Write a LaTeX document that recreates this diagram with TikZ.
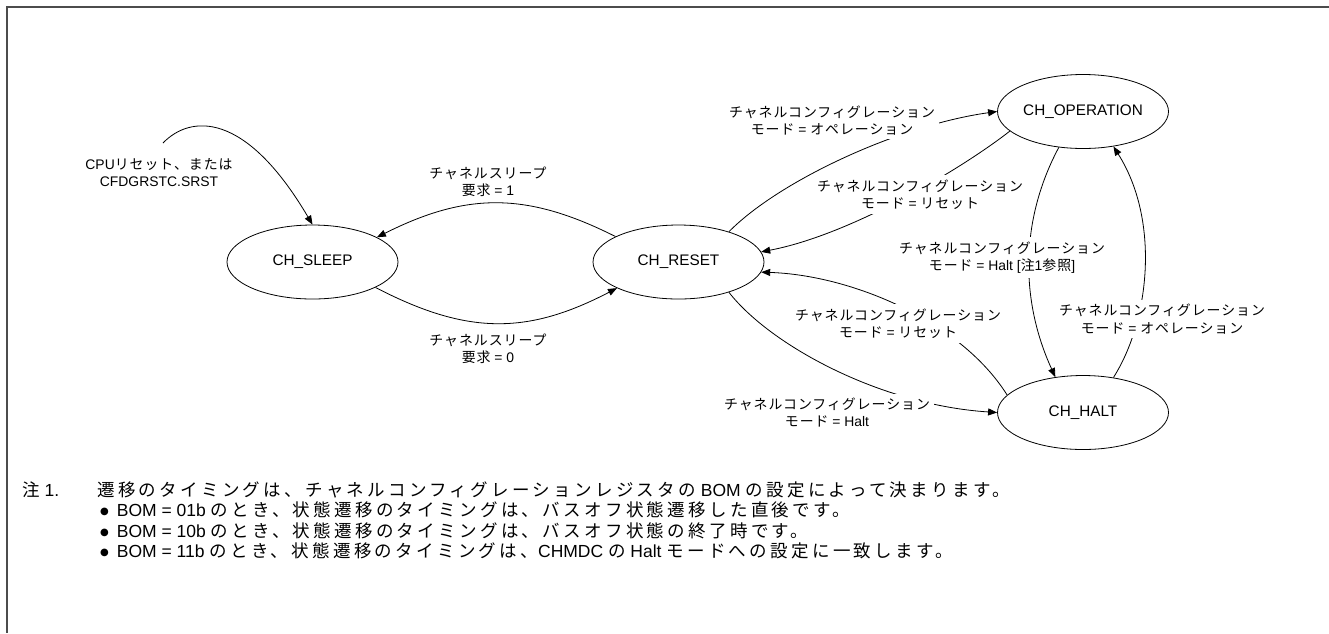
\documentclass[tikz,border=0pt]{standalone}
\usepackage{fontspec}
\setmainfont{Liberation Sans}
\newfontfamily\jp[LetterSpace=7]{Noto Sans CJK JP}
\newfontfamily\jw[LetterSpace=19]{Noto Sans CJK JP}
\newfontfamily\symfont{DejaVu Sans}
\usetikzlibrary{shapes.geometric, arrows.meta, positioning}

\tikzset{
  state/.style={ellipse, draw, line width=0.8pt, minimum width=171pt, minimum height=74pt, inner sep=0pt, font=\fontsize{15.3}{18}\selectfont},
  trans/.style={line width=0.8pt, -{Triangle[length=9pt,width=7pt]}},
  cond/.style={fill=white, align=center, inner sep=4pt, font=\fontsize{13.9}{17.5}\selectfont},
  notetxt/.style={anchor=west, inner sep=0pt, font=\fontsize{17.5}{20}\selectfont},
  frame/.style={draw=black!70, line width=2pt}
}
\newcommand{\notebullet}{\raisebox{2.5pt}{\symfont\fontsize{10}{10}\selectfont ●}\hspace{8pt}}

\begin{document}
\begin{tikzpicture}[x=1pt, y=1pt]
  \useasboundingbox (0,0) rectangle (1329,-633);

  % 1. Frame (top and left edge only)
  \draw[frame] (1329,-7) -| (7,-633);

  % 2. States
  \node[state] (sleep) at (312.5,-262) {CH\_SLEEP};
  \node[state] (reset) at (678.5,-262) {CH\_RESET};
  \node[state] (oper)  at (1083,-111.5) {CH\_OPERATION};
  \node[state] (halt)  at (1083,-412.5) {CH\_HALT};

  % 3. Transitions
  \coordinate (cpu start) at (163,-143);
  \draw[trans] (cpu start) .. controls (190,-115) and (245,-110) .. (sleep.90);
  \draw[trans] (reset.158) .. controls (527,-192) and (467,-192) .. (sleep.21);
  \draw[trans] (sleep.338) .. controls (467,-335) and (527,-335) .. (reset.203);
  \draw[trans] (reset.31) .. controls (780,-180) and (900,-125) .. (oper.180);
  \draw[trans] (oper.195) .. controls (960,-170) and (850,-235) .. (reset.7);
  \draw[trans] (halt.167) .. controls (960,-320) and (850,-275) .. (reset.353);
  \draw[trans] (reset.329) .. controls (770,-345) and (880,-405) .. (halt.180);
  \draw[trans] (oper.236) .. controls (1020,-220) and (1020,-300) .. (halt.128);
  \draw[trans] (halt.49) .. controls (1150,-320) and (1160,-220) .. (oper.311);

  % 4. Conditions (white box breaks the line)
  \node[cond] (cpu)  at (159,-172.5) {CPU{\jp リセット、または}\\CFDGRSTC.SRST};
  \node[cond] (slp1) at (488,-182) {{\jp チャネルスリープ}\\{\jp 要求} = 1};
  \node[cond] (slp0) at (488,-349) {{\jp チャネルスリープ}\\{\jp 要求} = 0};
  \node[cond] (op1)  at (832,-120.5) {{\jp チャネルコンフィグレーション}\\{\jp モード} = {\jp オペレーション}};
  \node[cond] (rs1)  at (920,-194.5) {{\jp チャネルコンフィグレーション}\\{\jp モード} = {\jp リセット}};
  \node[cond] (ht1)  at (1002,-257.5) {{\jp チャネルコンフィグレーション}\\{\jp モード} = Halt [{\jp 注}1{\jp 参照}]};
  \node[cond] (rs2)  at (898,-323.5) {{\jp チャネルコンフィグレーション}\\{\jp モード} = {\jp リセット}};
  \node[cond] (op2)  at (1162,-319) {{\jp チャネルコンフィグレーション}\\{\jp モード} = {\jp オペレーション}};
  \node[cond] (ht2)  at (827,-412.5) {{\jp チャネルコンフィグレーション}\\{\jp モード} = Halt};

  % 5. Note
  \node[notetxt] (note)  at (22,-490) {{\jw 注} 1.};
  \node[notetxt] (note0) at (97,-490) {{\jw 遷移のタイミングは、チャネルコンフィグレーションレジスタの} BOM {\jw の設定によって決まります。}};
  \node[notetxt] (note1) at (100,-510) {\notebullet BOM = 01b {\jw のとき、状態遷移のタイミングは、バスオフ状態遷移した直後です。}};
  \node[notetxt] (note2) at (100,-531) {\notebullet BOM = 10b {\jw のとき、状態遷移のタイミングは、バスオフ状態の終了時です。}};
  \node[notetxt] (note3) at (100,-551) {\notebullet BOM = 11b {\jw のとき、状態遷移のタイミングは、}CHMDC {\jw の} Halt {\jw モードへの設定に一致します。}};
\end{tikzpicture}
\end{document}
